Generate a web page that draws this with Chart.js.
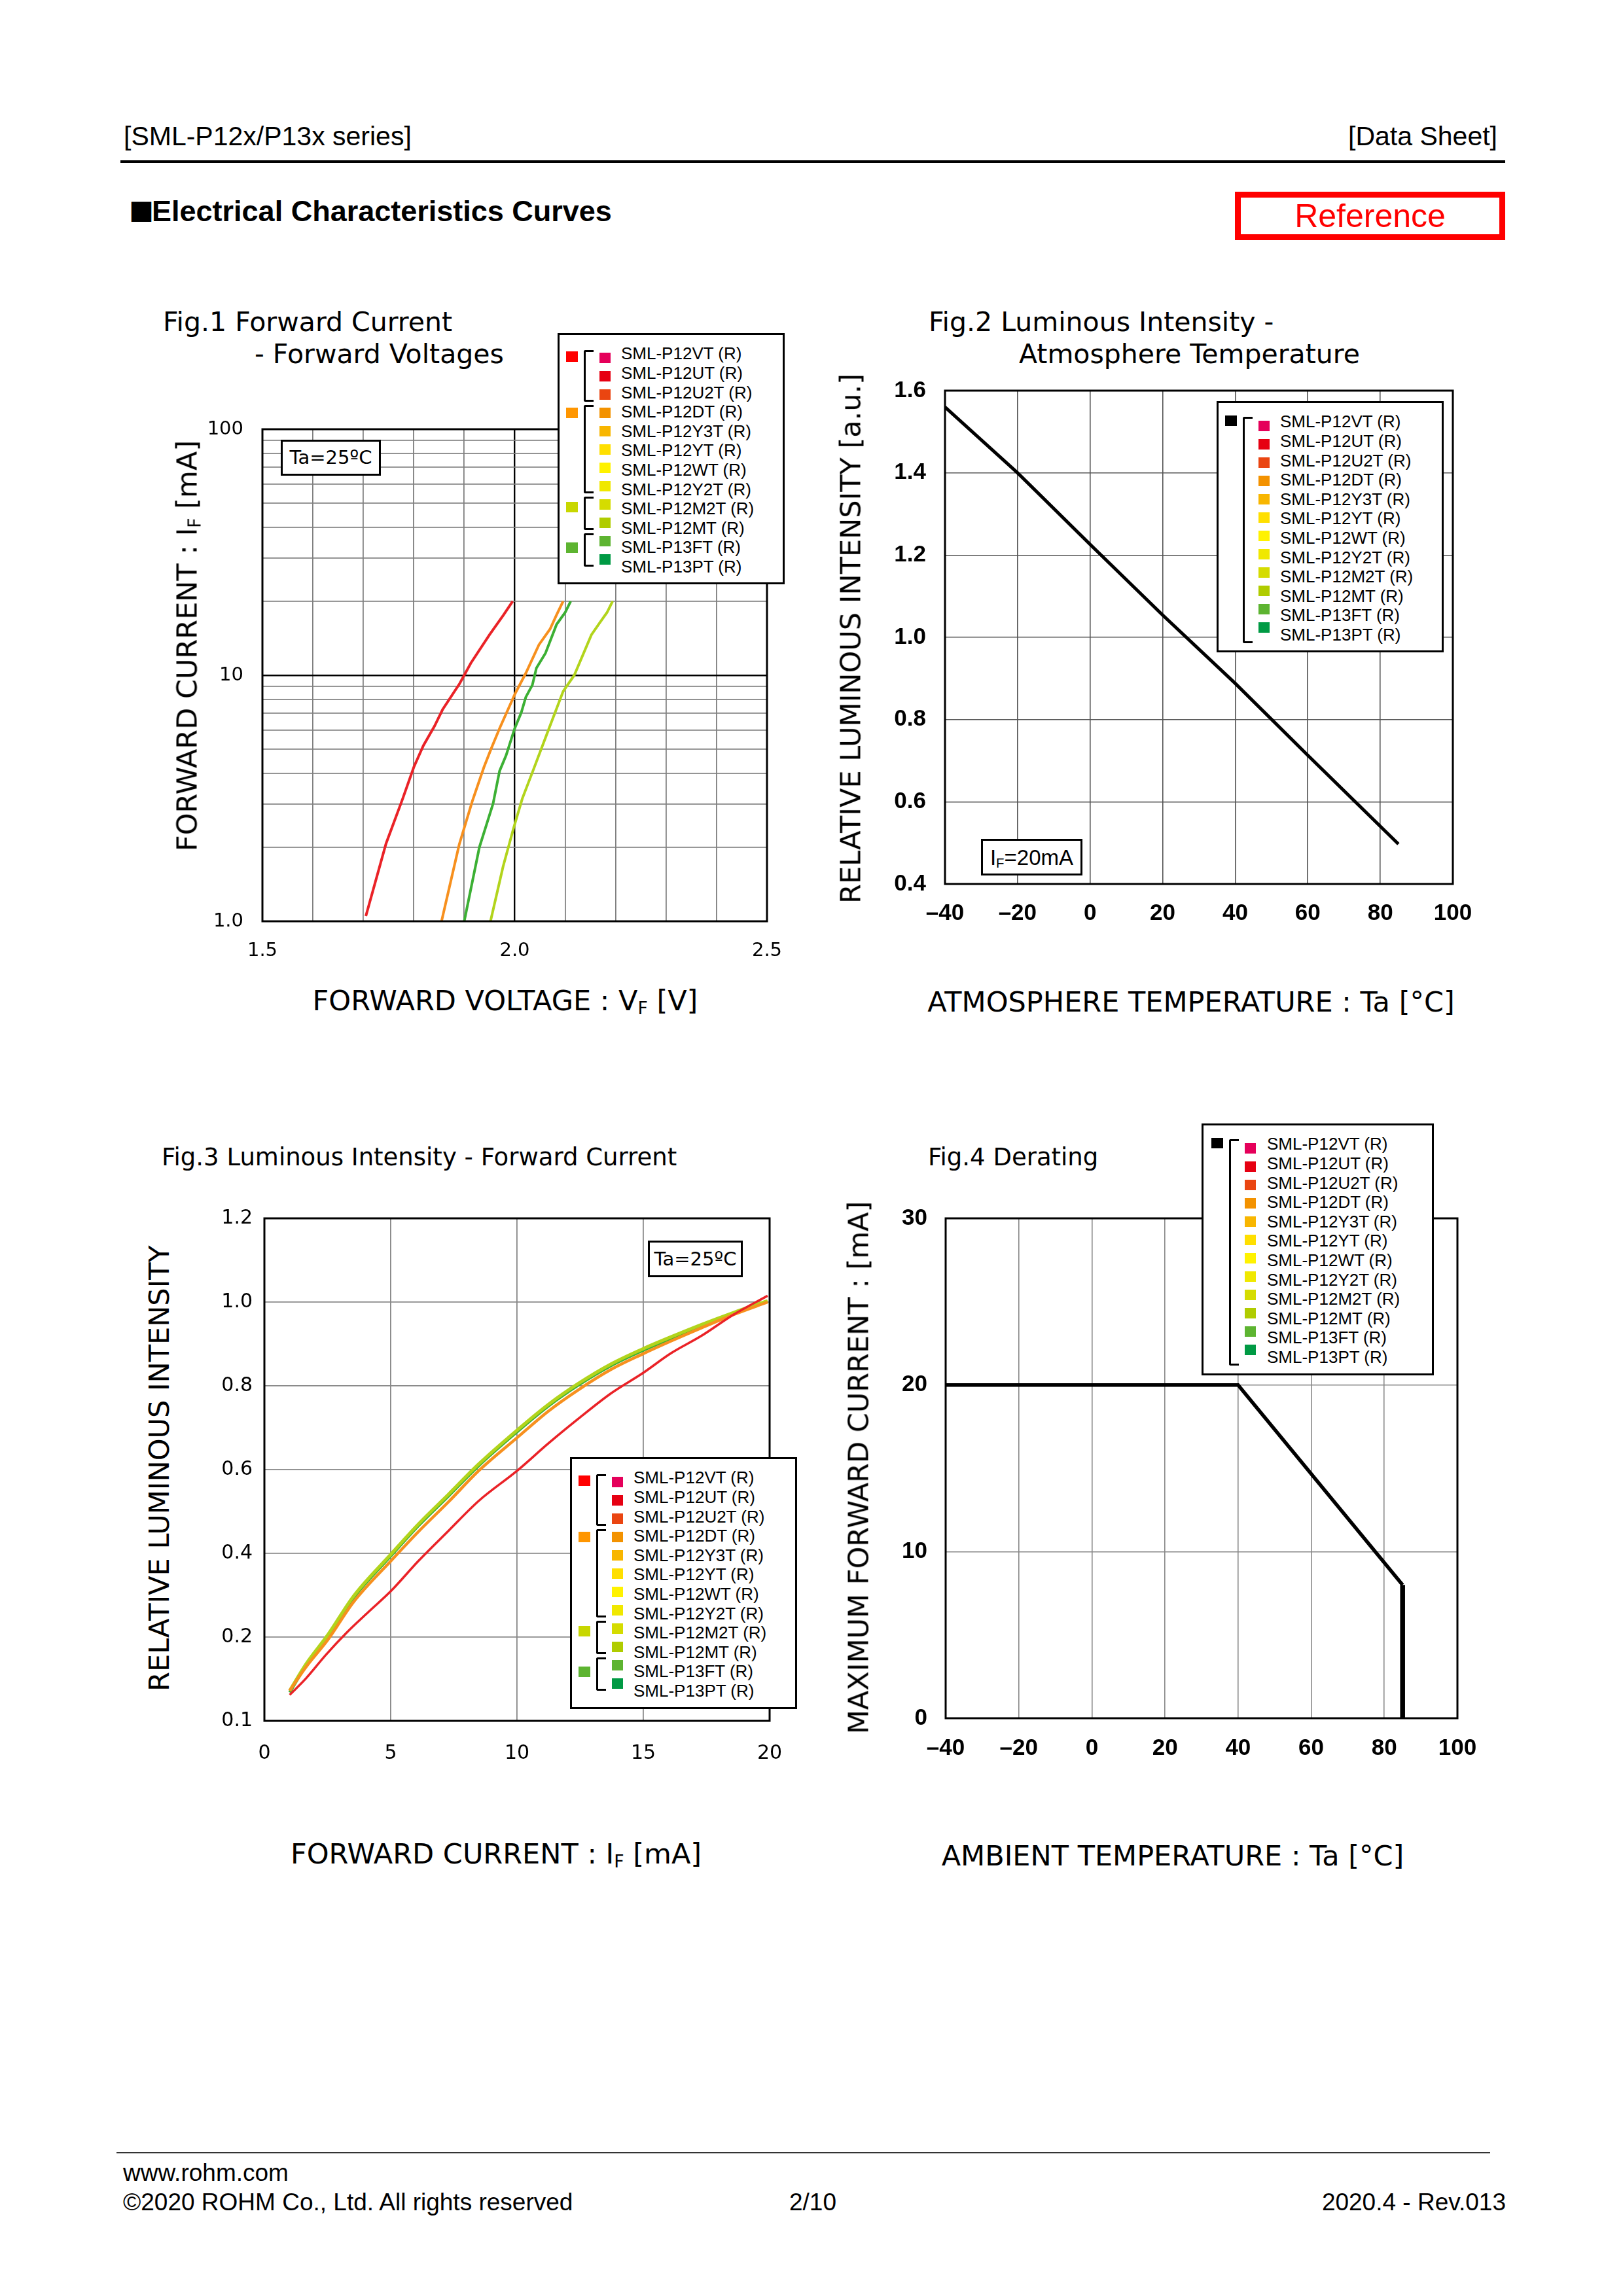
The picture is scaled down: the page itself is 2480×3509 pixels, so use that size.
<!DOCTYPE html>
<html><head><meta charset="utf-8">
<script src="https://cdn.jsdelivr.net/npm/chart.js@4.4.1/dist/chart.umd.min.js"></script>
<style>
html,body{margin:0;padding:0;background:#fff;}
#page{position:relative;width:2480px;height:3509px;background:#fff;overflow:hidden;}
.t{position:absolute;white-space:nowrap;line-height:1;color:#000;}
.dv{font-family:"DejaVu Sans",sans-serif;}
.ls{font-family:"Liberation Sans",Arial,sans-serif;}
.sub{font-size:0.62em;position:relative;top:0.22em;}
.c{transform:translateX(-50%);}
.rot{transform:translate(-50%,-50%) rotate(-90deg);}
canvas{position:absolute;}
.box{position:absolute;background:#fff;box-shadow:inset 0 0 0 3px #000;display:flex;align-items:center;justify-content:center;line-height:1;}
.legend{position:absolute;background:#fff;box-shadow:inset 0 0 0 3px #000;}
.legend div{position:absolute;}
</style></head>
<body><div id="page">
<!-- header -->
<div class="t ls" style="left:189px;top:188px;font-size:41px;">[SML-P12x/P13x series]</div>
<div class="t ls" style="right:192px;top:188px;font-size:41px;">[Data Sheet]</div>
<div style="position:absolute;left:184px;top:245px;width:2116px;height:4px;background:#000;"></div>
<div class="t ls" style="left:197px;top:300px;font-size:45px;font-weight:bold;"><span style="font-family:'Noto Sans CJK JP';font-weight:normal;font-size:38px;line-height:1;margin-right:-3px;">■</span>Electrical Characteristics Curves</div>
<div style="position:absolute;left:1887px;top:293px;width:413px;height:74px;box-sizing:border-box;border:9px solid #ff0000;display:flex;align-items:center;justify-content:center;">
  <span class="ls" style="font-size:50px;color:#ff0000;line-height:1;">Reference</span></div>

<!-- figure titles -->
<div class="t dv" style="left:249px;top:472px;font-size:41px;">Fig.1 Forward Current</div>
<div class="t dv" style="left:389px;top:521px;font-size:41px;">- Forward Voltages</div>
<div class="t dv" style="left:1419px;top:472px;font-size:41px;">Fig.2 Luminous Intensity -</div>
<div class="t dv" style="left:1557px;top:521px;font-size:41px;">Atmosphere Temperature</div>
<div class="t dv" style="left:247px;top:1750px;font-size:37px;">Fig.3 Luminous Intensity - Forward Current</div>
<div class="t dv" style="left:1418px;top:1750px;font-size:37px;">Fig.4 Derating</div>

<canvas id="fig1"></canvas>
<canvas id="fig2"></canvas>
<canvas id="fig3"></canvas>
<canvas id="fig4"></canvas>

<!-- axis titles -->
<div class="t dv c" style="left:772px;top:1508px;font-size:43px;">FORWARD VOLTAGE : V<span class="sub">F</span> [V]</div>
<div class="t dv rot" style="left:286px;top:987px;font-size:43px;">FORWARD CURRENT : I<span class="sub">F</span> [mA]</div>
<div class="t dv c" style="left:1820px;top:1510px;font-size:43px;">ATMOSPHERE TEMPERATURE : Ta [°C]</div>
<div class="t dv rot" style="left:1300px;top:976px;font-size:43px;">RELATIVE LUMINOUS INTENSITY [a.u.]</div>
<div class="t dv c" style="left:758px;top:2812px;font-size:43px;">FORWARD CURRENT : I<span class="sub">F</span> [mA]</div>
<div class="t dv rot" style="left:243px;top:2244px;font-size:43px;">RELATIVE LUMINOUS INTENSITY</div>
<div class="t dv c" style="left:1792px;top:2815px;font-size:43px;">AMBIENT TEMPERATURE : Ta [°C]</div>
<div class="t dv rot" style="left:1312px;top:2243px;font-size:43px;">MAXIMUM FORWARD CURRENT : [mA]</div>

<!-- condition boxes -->
<div class="box dv" style="left:429px;top:672px;width:153px;height:55px;font-size:29px;">Ta=25ºC</div>
<div class="box dv" style="left:990px;top:1896px;width:145px;height:56px;font-size:29px;">Ta=25ºC</div>
<div class="box ls" style="left:1499px;top:1282px;width:155px;height:56px;font-size:33px;"><span>I<span class="sub">F</span>=20mA</span></div>

<!-- footer -->
<div style="position:absolute;left:178px;top:3289px;width:2099px;height:2px;background:#333;"></div>
<div class="t ls" style="left:188px;top:3302px;font-size:37px;">www.rohm.com</div>
<div class="t ls" style="left:188px;top:3347px;font-size:37px;">©2020 ROHM Co., Ltd. All rights reserved</div>
<div class="t ls c" style="left:1242px;top:3347px;font-size:37px;">2/10</div>
<div class="t ls" style="right:179px;top:3347px;font-size:37px;">2020.4 - Rev.013</div>
</div>

<script>
// ================= DATA =================
const legendNames = ['SML-P12VT (R)','SML-P12UT (R)','SML-P12U2T (R)','SML-P12DT (R)','SML-P12Y3T (R)','SML-P12YT (R)','SML-P12WT (R)','SML-P12Y2T (R)','SML-P12M2T (R)','SML-P12MT (R)','SML-P13FT (R)','SML-P13PT (R)'];
const legendColors = ['#e5005a','#e60012','#ea4511','#f39200','#f8b600','#ffdf00','#fff200','#f0e800','#d5dc00','#b0cc00','#5db431','#009a44'];
const groupColors = ['#ff0000','#ff9600','#c8d700','#5db431'];
const groupRanges = [[0,2],[3,7],[8,9],[10,11]];

// Fig.1 Forward current vs forward voltage
const fig1XTicks = [1.5,1.6,1.7,1.8,1.9,2.0,2.1,2.2,2.3,2.4,2.5];
const fig1XLabelValues = [1.5,2.0,2.5];
const fig1XLabelTexts = ['1.5','2.0','2.5'];
const fig1YTicks = [1,2,3,4,5,6,7,8,9,10,20,30,40,50,60,70,80,90,100];
const fig1YLabelValues = [1,10,100];
const fig1YLabelTexts = ['1.0','10','100'];
const fig1RedV = [1.705,1.745,1.778,1.800,1.819,1.841,1.857,1.891,1.913,1.950,1.978,1.996];
const fig1RedI = [1.05,2.07,3.15,4.23,5.18,6.21,7.25,9.26,11.2,14.6,17.6,20];
const fig1OrangeV = [1.855,1.890,1.916,1.939,1.954,1.970,2.000,2.022,2.048,2.070,2.083,2.096];
const fig1OrangeI = [1.0,2.05,3.08,4.23,5.07,6.08,8.35,10.2,13.3,15.4,17.6,20];
const fig1GreenV = [1.900,1.930,1.957,1.970,1.983,2.000,2.013,2.022,2.035,2.043,2.061,2.083,2.100,2.111];
const fig1GreenI = [1.0,2.0,3.0,4.08,4.73,6.08,7.05,8.15,9.13,10.7,12.3,16.1,18.0,20];
const fig1LimeV = [1.952,1.977,1.998,2.015,2.037,2.068,2.096,2.118,2.152,2.170,2.183,2.194];
const fig1LimeI = [1.0,1.67,2.40,3.15,4.13,6.08,8.6,10.0,14.6,16.5,18.0,20];

// Fig.2 Luminous intensity vs temperature
const fig2XTicks = [-40,-20,0,20,40,60,80,100];
const fig2XLabels = ['–40','–20','0','20','40','60','80','100'];
const fig2YTicks = [0.4,0.6,0.8,1.0,1.2,1.4,1.6];
const fig2YLabels = ['0.4','0.6','0.8','1.0','1.2','1.4','1.6'];
const fig2Temp = [-40,-20,0,20,40,60,85];
const fig2Rel = [1.56,1.40,1.226,1.054,0.888,0.713,0.497];

// Fig.3 Luminous intensity vs forward current
const fig3XTicks = [0,5,10,15,20];
const fig3XLabels = ['0','5','10','15','20'];
const fig3YTicks = [0,0.2,0.4,0.6,0.8,1.0,1.2];
const fig3YLabels = ['0.1','0.2','0.4','0.6','0.8','1.0','1.2'];
const fig3RedI = [1,1.64,2.44,3.23,4.12,5.01,6.1,7.29,8.48,10,11.25,12.44,13.72,14.97,16.1,17.29,18.57,19.92];
const fig3RedRel = [0.062,0.101,0.158,0.209,0.260,0.310,0.382,0.454,0.525,0.597,0.663,0.722,0.782,0.830,0.878,0.919,0.970,1.015];
const fig3OrangeI = [1,1.64,2.53,3.52,5.01,6.1,7.29,8.48,10,11.25,12.44,13.72,14.97,16.1,17.29,18.57,19.92];
const fig3OrangeRel = [0.072,0.128,0.195,0.283,0.382,0.452,0.523,0.597,0.676,0.740,0.791,0.839,0.876,0.907,0.938,0.970,1.000];
const fig3GreenI = [1,1.64,2.53,3.52,5.01,6.1,7.29,8.48,10,11.25,12.44,13.72,14.97,16.1,17.29,18.57,19.92];
const fig3GreenRel = [0.068,0.131,0.203,0.293,0.394,0.466,0.537,0.609,0.690,0.752,0.802,0.848,0.884,0.913,0.943,0.973,1.001];
const fig3LimeI = [1,1.64,2.53,3.52,5.01,6.1,7.29,8.48,10,11.25,12.44,13.72,14.97,16.1,17.29,18.57,19.92];
const fig3LimeRel = [0.072,0.135,0.207,0.297,0.398,0.470,0.541,0.613,0.694,0.756,0.806,0.852,0.888,0.917,0.946,0.975,1.003];

// Fig.4 Derating
const fig4XTicks = [-40,-20,0,20,40,60,80,100];
const fig4XLabels = ['–40','–20','0','20','40','60','80','100'];
const fig4YTicks = [0,10,20,30];
const fig4YLabels = ['0','10','20','30'];
const fig4Temp = [-40,40,85,85];
const fig4Imax = [20,20,8,0];

// ================= RENDER =================
const page = document.getElementById('page');
const pts = (xs, ys) => xs.map((x, i) => ({x: x, y: ys[i]}));

const framePlugin = {
  id: 'frame',
  afterDatasetsDraw(chart, args, opts) {
    const ctx = chart.ctx, a = chart.chartArea;
    ctx.save();
    ctx.strokeStyle = '#000';
    ctx.lineWidth = opts.width || 3;
    ctx.strokeRect(a.left, a.top, a.right - a.left, a.bottom - a.top);
    ctx.restore();
  }
};

function axis(type, pos, vals, labelOf, font, pad, grid) {
  return {
    type: type, position: pos, min: vals[0], max: vals[vals.length - 1],
    afterBuildTicks: s => { s.ticks = vals.map(v => ({value: v})); },
    ticks: {callback: (v, i) => labelOf(v, i), font: font, color: '#000', padding: pad,
            autoSkip: false, maxRotation: 0, minRotation: 0},
    grid: Object.assign({drawTicks: false}, grid),
    border: {display: false}
  };
}

function makeChart(id, g, datasets, xScale, yScale) {
  const L = 130, T = 30, R = 45, B = 90;
  const c = document.getElementById(id);
  const w = (g.r - g.l) + L + R, h = (g.b - g.t) + T + B;
  c.width = w; c.height = h;
  c.style.left = (g.l - L) + 'px'; c.style.top = (g.t - T) + 'px';
  c.style.width = w + 'px'; c.style.height = h + 'px';
  xScale.afterFit = s => { s.height = B; s.paddingLeft = 0; s.paddingRight = 0; };
  yScale.afterFit = s => { s.width = L; s.paddingTop = 0; s.paddingBottom = 0; };
  return new Chart(c, {
    type: 'scatter',
    data: {datasets: datasets},
    options: {
      responsive: false, devicePixelRatio: 1, animation: false,
      layout: {padding: {left: 0, top: T, right: R, bottom: 0}},
      plugins: {legend: {display: false}, tooltip: {enabled: false}, frame: {width: 3}},
      elements: {point: {radius: 0}},
      scales: {x: xScale, y: yScale}
    },
    plugins: [framePlugin]
  });
}

const line = (data, color, width, extra) => Object.assign({
  data: data, showLine: true, borderColor: color, backgroundColor: color,
  borderWidth: width, pointRadius: 0, tension: 0, fill: false
}, extra || {});

const dvFont = size => ({family: 'DejaVu Sans', size: size});
const boldFont = size => ({family: 'Liberation Sans', size: size, weight: 'bold'});
const isCentre = (c, v) => c.tick && Math.abs(c.tick.value - v) < 1e-9;

// Fig.1
makeChart('fig1', {l: 401, t: 656, r: 1172, b: 1408}, [
  line(pts(fig1RedV, fig1RedI), '#ea2227', 4),
  line(pts(fig1OrangeV, fig1OrangeI), '#f7901e', 4),
  line(pts(fig1GreenV, fig1GreenI), '#3cb034', 4),
  line(pts(fig1LimeV, fig1LimeI), '#b2d41c', 4)
],
  axis('linear', 'bottom', fig1XTicks, v => { const k = fig1XLabelValues.indexOf(v); return k >= 0 ? fig1XLabelTexts[k] : ''; },
       dvFont(29), 28, {color: c => isCentre(c, 2.0) ? '#000' : '#808080', lineWidth: c => isCentre(c, 2.0) ? 2.4 : 1.8}),
  axis('logarithmic', 'left', fig1YTicks, v => { const k = fig1YLabelValues.indexOf(v); return k >= 0 ? fig1YLabelTexts[k] : ''; },
       dvFont(29), 29, {color: c => isCentre(c, 10) ? '#000' : '#808080', lineWidth: c => isCentre(c, 10) ? 2.6 : 1.8})
);

// Fig.2
makeChart('fig2', {l: 1444, t: 597, r: 2220, b: 1351}, [
  line(pts(fig2Temp, fig2Rel), '#000000', 5)
],
  axis('linear', 'bottom', fig2XTicks, (v, i) => fig2XLabels[i], boldFont(35), 24, {color: '#555', lineWidth: 1.6}),
  axis('linear', 'left', fig2YTicks, (v, i) => fig2YLabels[i], boldFont(35), 29, {color: '#555', lineWidth: 1.6})
);

// Fig.3
makeChart('fig3', {l: 404, t: 1862, r: 1176, b: 2630}, [
  line(pts(fig3RedI, fig3RedRel), '#ea2227', 3.5, {cubicInterpolationMode: 'monotone'}),
  line(pts(fig3OrangeI, fig3OrangeRel), '#f7901e', 4.5, {cubicInterpolationMode: 'monotone'}),
  line(pts(fig3LimeI, fig3LimeRel), '#b2d41c', 5, {cubicInterpolationMode: 'monotone'}),
  line(pts(fig3GreenI, fig3GreenRel), '#3cb034', 4.5, {cubicInterpolationMode: 'monotone'})
],
  axis('linear', 'bottom', fig3XTicks, (v, i) => fig3XLabels[i], dvFont(30), 32, {color: '#888', lineWidth: 1.8}),
  axis('linear', 'left', fig3YTicks, (v, i) => fig3YLabels[i], dvFont(30), 18, {color: '#888', lineWidth: 1.8})
);

// Fig.4
makeChart('fig4', {l: 1445, t: 1862, r: 2227, b: 2626}, [
  line(pts(fig4Temp, fig4Imax), '#000000', 5.5, {segment: {borderWidth: c => c.p0DataIndex === 2 ? 7.5 : 5.5}})
],
  axis('linear', 'bottom', fig4XTicks, (v, i) => fig4XLabels[i], boldFont(35), 25, {color: '#888', lineWidth: 1.6}),
  axis('linear', 'left', fig4YTicks, (v, i) => fig4YLabels[i], boldFont(35), 28, {color: '#888', lineWidth: 1.6})
);

// ================= LEGENDS (HTML overlays) =================
function buildLegend(spec) {
  const box = document.createElement('div');
  box.className = 'legend';
  box.style.left = spec.left + 'px'; box.style.top = spec.top + 'px';
  box.style.width = spec.w + 'px'; box.style.height = spec.h + 'px';
  legendNames.forEach((name, i) => {
    const sq = document.createElement('div');
    sq.style.cssText = 'left:' + spec.sqX + 'px;top:' + (spec.sqY0 + spec.sqStep * i - 8) + 'px;width:17px;height:16px;background:' + legendColors[i] + ';';
    box.appendChild(sq);
    const tx = document.createElement('div');
    tx.className = 'ls';
    tx.textContent = name;
    tx.style.cssText = 'left:' + spec.txX + 'px;top:' + (spec.txY0 + spec.txStep * i - 12.7) + 'px;font-size:26px;line-height:1;white-space:nowrap;color:#000;';
    box.appendChild(tx);
  });
  spec.groups.forEach(g => {
    const gs = document.createElement('div');
    gs.style.cssText = 'left:' + spec.gX + 'px;top:' + (g.c - 8) + 'px;width:18px;height:16px;background:' + g.color + ';';
    box.appendChild(gs);
    const br = document.createElement('div');
    br.style.cssText = 'left:' + spec.bX + 'px;top:' + g.t + 'px;width:12px;height:' + (g.b - g.t) + 'px;border:3px solid #000;border-right:none;border-radius:3px 0 0 3px;';
    box.appendChild(br);
  });
  page.appendChild(box);
}

const sqC = i => 38 + 28 * i;
const colorGroups = groupRanges.map((r, k) => ({color: groupColors[k], t: sqC(r[0]) - 12, b: sqC(r[1]) + 5}));
const colorGroupCentres = [36, 122, 266, 328];
colorGroups.forEach((g, k) => { g.c = colorGroupCentres[k]; });
const blackGroup = [{color: '#000000', c: 30, t: 24, b: 364}];

const base = {w: 347, h: 384, sqX: 64, sqY0: 38, sqStep: 28, txX: 97, txY0: 31, txStep: 29.6, gX: 13, bX: 40};
buildLegend(Object.assign({}, base, {left: 852, top: 509, groups: colorGroups}));
buildLegend(Object.assign({}, base, {left: 1859, top: 613, groups: blackGroup}));
buildLegend(Object.assign({}, base, {left: 871, top: 2227, h: 385, groups: colorGroups}));
buildLegend(Object.assign({}, base, {left: 1836, top: 1717, w: 355, h: 385, sqX: 66, txX: 100, gX: 15, bX: 42, groups: blackGroup}));
</script>
</body></html>
